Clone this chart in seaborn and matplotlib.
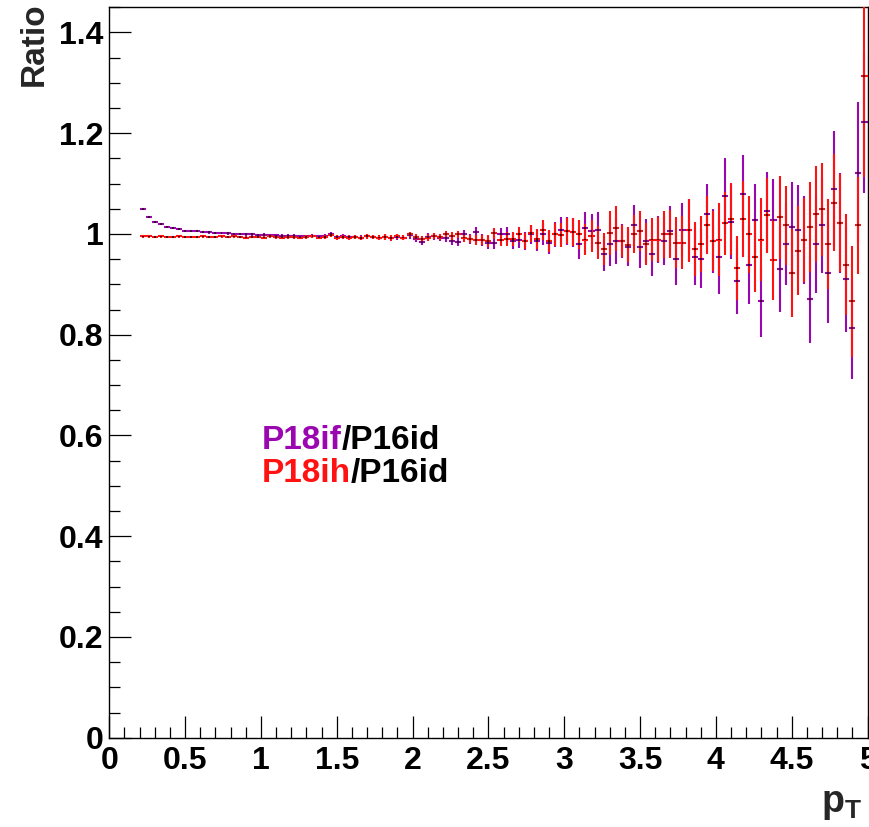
import numpy as np
import pandas as pd
import matplotlib
matplotlib.use("Agg")
import matplotlib.pyplot as plt
import seaborn as sns
from matplotlib.ticker import MultipleLocator, FuncFormatter

# ---------------- data ----------------
pt_centers = np.round(np.arange(0.22, 5.0, 0.04), 2)   # 120 bins of width 0.04

ratio_p18ih = [
    0.995, 0.995, 0.994, 0.995, 0.994, 0.994, 0.995, 0.994, 0.994, 0.994,
    0.995, 0.994, 0.994, 0.995, 0.994, 0.995, 0.994, 0.993, 0.994, 0.994,
    0.993, 0.995, 0.994, 0.993, 0.994, 0.994, 0.993, 0.994, 0.995, 0.993,
    0.994, 0.998, 0.993, 0.994, 0.993, 0.994, 0.992, 0.995, 0.994, 0.993,
    0.994, 0.992, 0.995, 0.993, 0.999, 0.994, 0.990, 0.993, 0.996, 0.994,
    0.999, 0.996, 0.999, 0.993, 0.990, 0.988, 0.988, 0.986, 1.001, 0.988,
    0.990, 0.990, 0.999, 0.986, 1.001, 0.990, 1.008, 0.986, 0.999, 0.998,
    1.006, 1.004, 0.999, 0.989, 0.996, 0.983, 0.970, 1.002, 1.011, 0.986,
    0.979, 1.000, 1.006, 0.980, 0.989, 0.989, 0.999, 1.000, 0.983, 0.983,
    1.007, 0.970, 0.980, 1.018, 0.986, 0.989, 1.021, 1.030, 0.932, 1.030,
    0.999, 0.955, 0.989, 1.037, 0.948, 1.033, 1.017, 0.923, 0.967, 0.988,
    1.014, 1.039, 1.049, 0.980, 1.062, 1.022, 0.939, 0.866, 1.017, 1.313,
]
err_p18ih = [
    0.002, 0.002, 0.002, 0.002, 0.002, 0.002, 0.002, 0.002, 0.002, 0.002,
    0.0025, 0.0025, 0.0025, 0.0025, 0.0025, 0.0025, 0.0025, 0.0025, 0.0025, 0.0025,
    0.003, 0.003, 0.003, 0.003, 0.003, 0.003, 0.003, 0.003, 0.003, 0.003,
    0.004, 0.004, 0.004, 0.004, 0.004, 0.004, 0.004, 0.004, 0.004, 0.004,
    0.005, 0.005, 0.005, 0.005, 0.005, 0.006, 0.006, 0.006, 0.006, 0.006,
    0.007, 0.007, 0.007, 0.008, 0.008, 0.010, 0.010, 0.011, 0.011, 0.012,
    0.014, 0.014, 0.015, 0.016, 0.017, 0.019, 0.020, 0.021, 0.022, 0.024,
    0.026, 0.027, 0.028, 0.030, 0.031, 0.032, 0.032, 0.043, 0.045, 0.031,
    0.035, 0.038, 0.040, 0.042, 0.042, 0.045, 0.046, 0.047, 0.050, 0.052,
    0.062, 0.054, 0.056, 0.058, 0.060, 0.073, 0.062, 0.072, 0.063, 0.075,
    0.076, 0.070, 0.083, 0.074, 0.080, 0.082, 0.078, 0.087, 0.088, 0.084,
    0.090, 0.095, 0.092, 0.090, 0.096, 0.098, 0.100, 0.110, 0.097, 0.200,
]

ratio_p18if = [
    1.049, 1.033, 1.024, 1.019, 1.014, 1.011, 1.009, 1.006, 1.006, 1.005,
    1.004, 1.003, 1.002, 1.002, 1.001, 1.000, 1.000, 0.999, 0.999, 0.998,
    0.998, 0.997, 0.997, 0.996, 0.996, 0.996, 0.995, 0.995, 0.996, 0.995,
    0.995, 0.999, 0.994, 0.995, 0.994, 0.994, 0.993, 0.996, 0.994, 0.993,
    0.994, 0.993, 0.994, 0.993, 0.997, 0.991, 0.984, 0.994, 0.995, 0.993,
    0.992, 0.986, 0.984, 0.999, 0.990, 1.003, 0.988, 0.983, 0.983, 0.999,
    0.999, 0.986, 0.988, 0.986, 0.999, 0.986, 0.999, 0.983, 0.999, 1.008,
    1.006, 1.003, 0.980, 1.011, 1.006, 1.008, 0.961, 0.980, 0.986, 0.986,
    0.974, 1.017, 0.974, 0.986, 0.961, 0.989, 0.986, 1.005, 0.951, 1.008,
    1.008, 0.955, 0.951, 1.039, 0.986, 0.955, 1.075, 1.024, 0.907, 1.080,
    0.939, 1.027, 0.866, 1.046, 1.027, 0.930, 0.980, 1.014, 1.008, 0.988,
    0.870, 0.980, 1.017, 0.923, 1.090, 1.022, 0.910, 0.813, 1.122, 1.222,
]
err_p18if = [
    0.002, 0.002, 0.002, 0.002, 0.002, 0.002, 0.002, 0.002, 0.002, 0.002,
    0.0025, 0.0025, 0.0025, 0.0025, 0.0025, 0.0025, 0.0025, 0.0025, 0.0025, 0.0025,
    0.003, 0.003, 0.003, 0.003, 0.003, 0.003, 0.003, 0.003, 0.003, 0.003,
    0.004, 0.004, 0.004, 0.004, 0.004, 0.004, 0.004, 0.004, 0.004, 0.004,
    0.005, 0.005, 0.005, 0.005, 0.006, 0.006, 0.006, 0.007, 0.007, 0.007,
    0.008, 0.008, 0.008, 0.009, 0.009, 0.011, 0.011, 0.012, 0.012, 0.013,
    0.015, 0.015, 0.016, 0.017, 0.018, 0.020, 0.021, 0.022, 0.024, 0.026,
    0.028, 0.029, 0.030, 0.032, 0.033, 0.035, 0.035, 0.044, 0.046, 0.034,
    0.037, 0.040, 0.042, 0.044, 0.044, 0.047, 0.048, 0.050, 0.052, 0.054,
    0.062, 0.057, 0.058, 0.061, 0.063, 0.075, 0.075, 0.074, 0.066, 0.077,
    0.078, 0.073, 0.070, 0.077, 0.082, 0.085, 0.082, 0.090, 0.090, 0.088,
    0.087, 0.097, 0.095, 0.100, 0.115, 0.100, 0.104, 0.100, 0.140, 0.140,
]

labels = ["P18if", "P18ih"]
reference_label = "/P16id"
series_colors = {"P18if": "#9a06b0", "P18ih": "#ff1212"}

x_ticks = [0, 0.5, 1, 1.5, 2, 2.5, 3, 3.5, 4, 4.5, 5]
y_ticks = [0, 0.2, 0.4, 0.6, 0.8, 1.0, 1.2, 1.4]

df = pd.concat([
    pd.DataFrame({"pt": pt_centers, "ratio": ratio_p18if, "err": err_p18if, "period": "P18if"}),
    pd.DataFrame({"pt": pt_centers, "ratio": ratio_p18ih, "err": err_p18ih, "period": "P18ih"}),
], ignore_index=True)

# ---------------- style ----------------
sns.set_style("ticks")
plt.rcParams["font.family"] = ["Liberation Sans", "DejaVu Sans"]
plt.rcParams["font.weight"] = "bold"
plt.rcParams["mathtext.fontset"] = "custom"
plt.rcParams["mathtext.bf"] = "Liberation Sans:bold"
plt.rcParams["mathtext.rm"] = "Liberation Sans:bold"
plt.rcParams["mathtext.it"] = "Liberation Sans:bold"

W, H = 869, 827
fig = plt.figure(figsize=(W / 100, H / 100), dpi=100)
ax = fig.add_axes([109.3 / W, 1 - 737.7 / H, (867.5 - 109.3) / W, (737.7 - 7.3) / H])

for period in labels:
    sub = df[df["period"] == period]
    ax.errorbar(sub["pt"], sub["ratio"], yerr=sub["err"], xerr=0.02,
                fmt="none", ecolor=series_colors[period], elinewidth=1.5,
                capsize=0, zorder=2 if period == "P18if" else 3)

sns.scatterplot(data=df, x="pt", y="ratio", hue="period", palette=["#400030", "#500000"],
                marker="s", s=2, linewidth=0, legend=False, ax=ax, zorder=4)

ax.set_xlim(0, 5)
ax.set_ylim(0, 1.45)
ax.set_xlabel("")
ax.set_ylabel("")

fmt = FuncFormatter(lambda v, p: f"{v:g}")
ax.xaxis.set_major_locator(MultipleLocator(0.5))
ax.xaxis.set_minor_locator(MultipleLocator(0.1))
ax.yaxis.set_major_locator(MultipleLocator(0.2))
ax.yaxis.set_minor_locator(MultipleLocator(0.05))
ax.set_xticks(x_ticks)
ax.set_yticks(y_ticks)
ax.xaxis.set_major_formatter(fmt)
ax.yaxis.set_major_formatter(fmt)
ax.tick_params(axis="both", which="both", direction="in", top=False, right=False,
               width=0.9, colors="black")
ax.tick_params(axis="both", which="major", length=16, labelsize=23)
ax.tick_params(axis="both", which="minor", length=8)
ax.tick_params(axis="x", which="major", pad=6)
ax.tick_params(axis="y", which="major", pad=4)
for lab in ax.get_xticklabels() + ax.get_yticklabels():
    lab.set_fontweight("bold")
for s in ax.spines.values():
    s.set_color("black")
    s.set_linewidth(1.0)

# axis titles
fig.text(34 / W, 1 - 2 / H, "Ratio", rotation=90, ha="center", va="top",
         fontsize=24, fontweight="bold")
fig.text(862 / W, 1 - 812 / H, r"$\mathbf{p}_{\mathbf{T}}$", ha="right", va="baseline",
         fontsize=27)

# legend-like text
renderer = fig.canvas.get_renderer()
baselines = [449, 482]
for period, yb in zip(labels, baselines):
    t1 = fig.text(262 / W, 1 - yb / H, period, color=series_colors[period],
                  fontsize=24, fontweight="bold", ha="left", va="baseline")
    bb = t1.get_window_extent(renderer=renderer)
    fig.text(bb.x1 / W, 1 - yb / H, reference_label, color="black",
             fontsize=24, fontweight="bold", ha="left", va="baseline")

fig.savefig("out.png", dpi=100, facecolor="white")
